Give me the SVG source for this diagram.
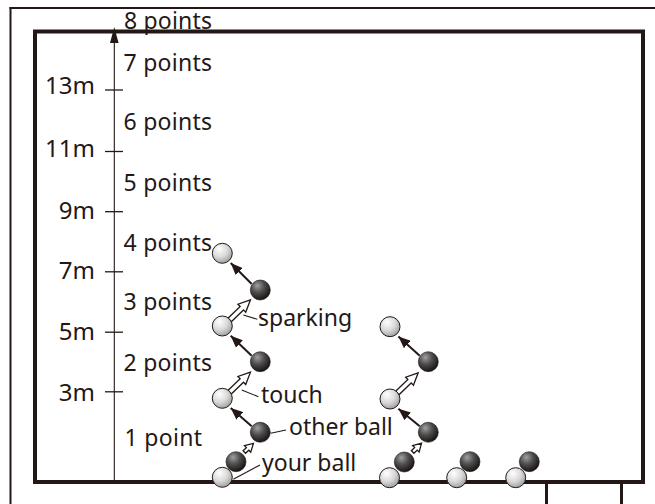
<svg xmlns="http://www.w3.org/2000/svg" xmlns:xlink="http://www.w3.org/1999/xlink" width="655" height="504" viewBox="0 0 655 504">
  <style>
    .lbl { font-family: "Noto Sans", "DejaVu Sans", sans-serif; font-size: 23px; fill: #231815; }
    .pts { font-size: 23px; }
    .dist { font-size: 24px; }
    .frame { fill: none; stroke: #231815; }
    .thin { stroke: #231815; stroke-width: 1.1; fill: none; }
    .shaft { stroke: #231815; stroke-width: 2; fill: none; }
    .hollow { fill: #ffffff; stroke: #231815; stroke-width: 1.3; stroke-linejoin: miter; }
    .wball { fill: url(#gWhite); stroke: #231815; stroke-width: 1; }
    .bball { fill: url(#gBlack); stroke: #1a1311; stroke-width: 0.6; }
  </style>
  <defs>
    <radialGradient id="gWhite" cx="38%" cy="32%" r="72%" fx="35%" fy="28%">
      <stop offset="0" stop-color="#ffffff"/>
      <stop offset="0.55" stop-color="#d9d9d9"/>
      <stop offset="1" stop-color="#9c9c9c"/>
    </radialGradient>
    <radialGradient id="gBlack" cx="38%" cy="32%" r="72%" fx="35%" fy="28%">
      <stop offset="0" stop-color="#a0a0a0"/>
      <stop offset="0.45" stop-color="#505050"/>
      <stop offset="1" stop-color="#140e0c"/>
    </radialGradient>
    <marker id="headFill" markerUnits="userSpaceOnUse" markerWidth="12" markerHeight="10" refX="12" refY="5" orient="auto">
      <path d="M0,0 L12,5 L0,10 Z" fill="#231815"/>
    </marker>
    <path id="hollowLong" d="M0,-2.4 H17 V-5.6 L29,0 L17,5.6 V2.4 H0 Z"/>
    <path id="hollowShort" d="M0,-1.8 H4.5 V-4.6 L12.5,0 L4.5,4.6 V1.8 H0 Z"/>
  </defs>

  <!-- outer frame and court -->
  <g id="court">
    <line class="frame" x1="10.5" y1="7" x2="10.5" y2="504" stroke-width="2"/>
    <line class="frame" x1="9.5" y1="8" x2="655" y2="8" stroke-width="2"/>
    <rect class="frame" x="35" y="31.5" width="608" height="450.5" stroke-width="4"/>
    <line class="frame" x1="546.5" y1="482" x2="546.5" y2="504" stroke-width="3"/>
    <line class="frame" x1="621.5" y1="482" x2="621.5" y2="504" stroke-width="3"/>
  </g>

  <!-- distance axis -->
  <g id="axis">
    <line class="thin" x1="114.3" y1="482" x2="114.3" y2="40" stroke-width="1.5"/>
    <path d="M114.3,27 L118.6,43 L110,43 Z" fill="#231815"/>
    <g stroke="#231815" stroke-width="1.3">
      <line x1="105" y1="90" x2="123" y2="90"/>
      <line x1="105" y1="151.5" x2="123" y2="151.5"/>
      <line x1="105" y1="211.7" x2="123" y2="211.7"/>
      <line x1="105" y1="271.8" x2="123" y2="271.8"/>
      <line x1="105" y1="332.2" x2="123" y2="332.2"/>
      <line x1="105" y1="391.8" x2="123" y2="391.8"/>
    </g>
    <g class="lbl dist" text-anchor="end">
      <text x="95" y="94.3">13m</text>
      <text x="95" y="156.7">11m</text>
      <text x="95" y="219">9m</text>
      <text x="95" y="279">7m</text>
      <text x="95" y="340">5m</text>
      <text x="95" y="401">3m</text>
    </g>
    <g class="lbl pts">
      <text x="124" y="28.5" textLength="88">8 points</text>
      <text x="123.5" y="71" textLength="88.5">7 points</text>
      <text x="123.5" y="130" textLength="88.5">6 points</text>
      <text x="123.5" y="190.5" textLength="88.5">5 points</text>
      <text x="123.5" y="250.7" textLength="88.5">4 points</text>
      <text x="123.5" y="310" textLength="88.5">3 points</text>
      <text x="123.5" y="370.7" textLength="88.5">2 points</text>
      <text x="124.5" y="446" textLength="77.5">1 point</text>
    </g>
  </g>

  <!-- connectors: ball paths and label leaders -->
  <g id="connectors">
    <line class="shaft" x1="251.7" y1="284" x2="230.7" y2="263" marker-end="url(#headFill)"/>
    <line class="shaft" x1="251.7" y1="355.7" x2="230.7" y2="335.7" marker-end="url(#headFill)"/>
    <line class="shaft" x1="251.7" y1="426.3" x2="230.7" y2="408" marker-end="url(#headFill)"/>
    <line class="shaft" x1="419.7" y1="355.7" x2="398.4" y2="336.4" marker-end="url(#headFill)"/>
    <line class="shaft" x1="419.7" y1="426.3" x2="398.4" y2="408.7" marker-end="url(#headFill)"/>

    <use xlink:href="#hollowLong" class="hollow" transform="translate(229.6,320) rotate(-44)"/>
    <use xlink:href="#hollowLong" class="hollow" transform="translate(229.6,392.3) rotate(-44)"/>
    <use xlink:href="#hollowLong" class="hollow" transform="translate(397.3,393) rotate(-44)"/>
    <use xlink:href="#hollowShort" class="hollow" transform="translate(244.3,452) rotate(-43)"/>
    <use xlink:href="#hollowShort" class="hollow" transform="translate(412.7,452) rotate(-45)"/>

    <line class="thin" x1="243.3" y1="315" x2="257.3" y2="319.3"/>
    <line class="thin" x1="241.7" y1="390" x2="258.3" y2="396.7"/>
    <line class="thin" x1="270.7" y1="433.3" x2="286" y2="430"/>
    <line class="thin" x1="233.3" y1="479.3" x2="260" y2="465"/>
  </g>

  <!-- balls: dark = other ball, light = your ball -->
  <g id="ballsLeft">
    <circle class="bball" cx="260.3" cy="290" r="10"/>
    <circle class="bball" cx="260.3" cy="361.7" r="10"/>
    <circle class="bball" cx="260.3" cy="432.3" r="10"/>
    <circle class="bball" cx="236" cy="461.7" r="10"/>
    <circle class="wball" cx="222.3" cy="253.3" r="10"/>
    <circle class="wball" cx="222.3" cy="326" r="10"/>
    <circle class="wball" cx="222.3" cy="398.3" r="10"/>
    <circle class="wball" cx="222.3" cy="477.3" r="10"/>
  </g>
  <g id="ballsRight">
    <circle class="bball" cx="428.3" cy="361.7" r="10"/>
    <circle class="bball" cx="428.3" cy="432.3" r="10"/>
    <circle class="bball" cx="404.3" cy="462" r="10"/>
    <circle class="wball" cx="390" cy="326.7" r="10"/>
    <circle class="wball" cx="390" cy="399" r="10"/>
    <circle class="wball" cx="389.5" cy="477.7" r="10"/>
  </g>
  <g id="pair2">
    <circle class="bball" cx="470" cy="461.7" r="10"/>
    <circle class="wball" cx="456.7" cy="477.7" r="10"/>
  </g>
  <g id="pair3">
    <circle class="bball" cx="529.3" cy="461.7" r="10"/>
    <circle class="wball" cx="515.7" cy="477.7" r="10"/>
  </g>

  <!-- labels -->
  <g id="labels" class="lbl">
    <text x="258" y="326">sparking</text>
    <text x="261" y="403">touch</text>
    <text x="289" y="435">other ball</text>
    <text x="262" y="471">your ball</text>
  </g>
</svg>
